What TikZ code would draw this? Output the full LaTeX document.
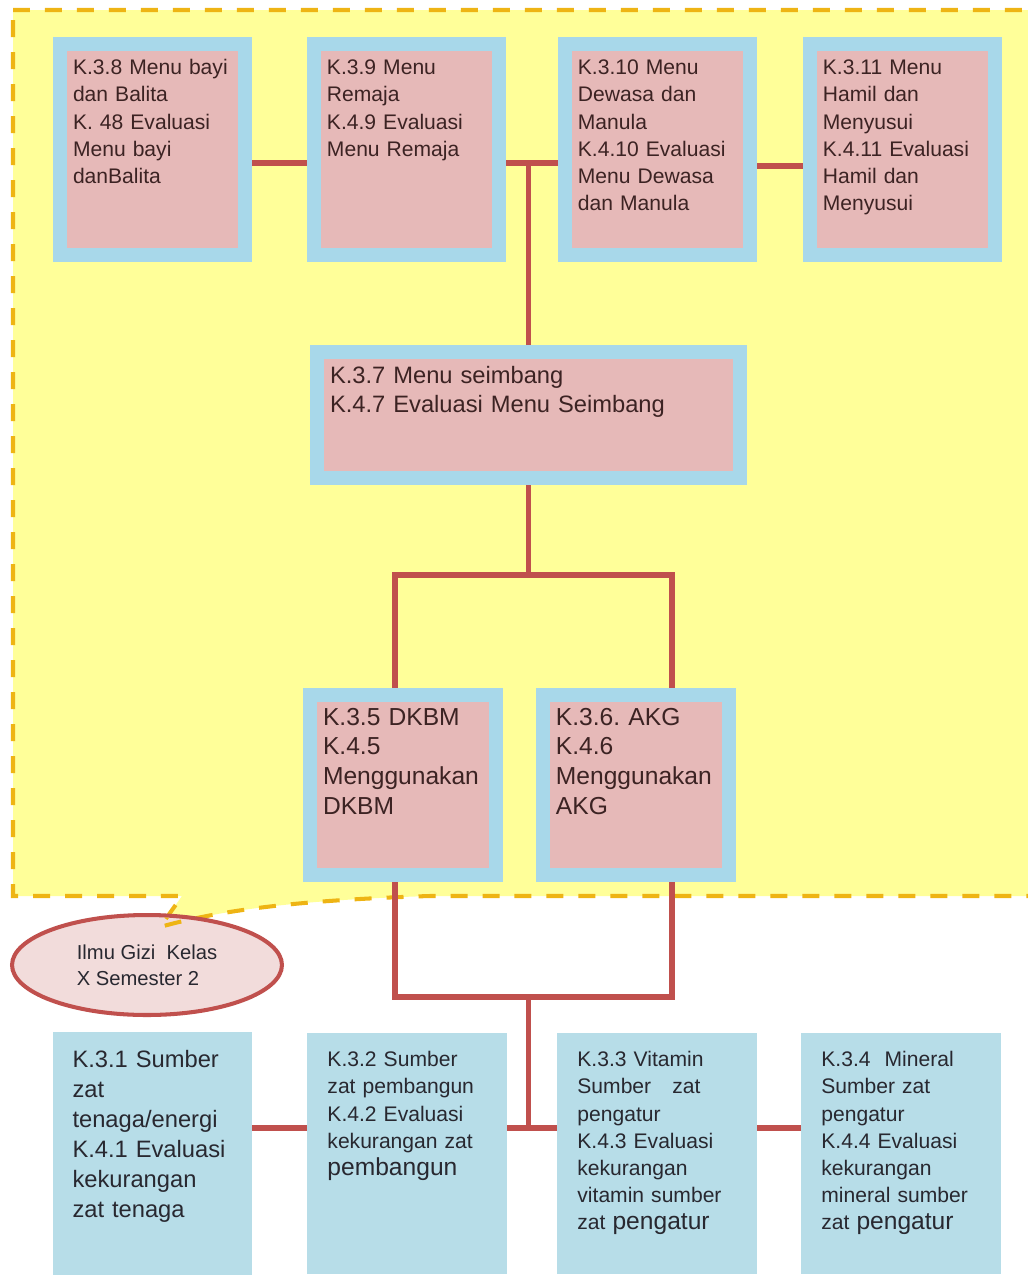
\documentclass[tikz,border=0pt]{standalone}
\usepackage{fontspec}
\setmainfont{Liberation Sans}
\usepackage{tikz}
\usetikzlibrary{positioning,shapes.geometric,backgrounds}

\definecolor{calloutyellow}{RGB}{255,255,153}
\definecolor{calloutgold}{RGB}{238,180,20}
\definecolor{menupink}{RGB}{230,185,184}
\definecolor{menurim}{RGB}{168,216,234}
\definecolor{topicblue}{RGB}{183,221,232}
\definecolor{linkred}{RGB}{192,80,77}
\definecolor{notepink}{RGB}{242,220,219}
\definecolor{inkbrown}{RGB}{60,35,35}
\definecolor{inkgrey}{RGB}{40,40,48}

\begin{document}
\frenchspacing
\begin{tikzpicture}[x=0.02cm, y=-0.02cm]
	\tikzstyle{menu} = [rectangle, draw=menurim, line width=0.28cm, fill=menupink, outer sep=0pt,
	text=inkbrown, align=left, text width=3.18cm, inner xsep=0.26cm, inner ysep=0.3cm,
	text height=9pt, text depth=3.3cm, font=\fontsize{12}{15.4}\selectfont]
	\tikzstyle{menubig} = [menu, text width=3.2cm, text height=10.3pt, text depth=2.76cm,
	inner ysep=0.24cm, font=\fontsize{14}{17}\selectfont]
	\tikzstyle{topic} = [rectangle, fill=topicblue, outer sep=0pt, text=inkgrey, align=left,
	text width=3.2cm, inner xsep=0.4cm, inner ysep=0.37cm, text height=9pt, text depth=3.78cm,
	font=\fontsize{12}{15.4}\selectfont]
	\tikzstyle{link} = [draw=linkred, line width=3.4pt]
	\tikzstyle{rim} = [draw=calloutgold, line width=2.3pt, dash pattern=on 0.34cm off 0.3cm]
	\useasboundingbox (0,0) rectangle (1028,1275);
	% semester 2 menus
	\node (m38) [menu] at (152.5,149.5) {K.3.8 Menu bayi\\dan Balita\\K. 48 Evaluasi\\Menu bayi\\danBalita};
	\node (m39) [menu, right=1.38cm of m38] {K.3.9 Menu\\Remaja\\K.4.9 Evaluasi\\Menu Remaja};
	\node (m310) [menu, right=1.32cm of m39] {K.3.10 Menu\\Dewasa dan\\Manula\\K.4.10 Evaluasi\\Menu Dewasa\\dan Manula};
	\node (m311) [menu, right=1.2cm of m310] {K.3.11 Menu\\Hamil dan\\Menyusui\\K.4.11 Evaluasi\\Hamil dan\\Menyusui};
	\node (m37) [menu, text width=7.94cm, text height=10pt, text depth=1.63cm, inner ysep=0.27cm,
	font=\fontsize{13.5}{16.5}\selectfont] at (528.5,415) {K.3.7 Menu seimbang\\K.4.7 Evaluasi Menu Seimbang};
	\node (k35) [menubig] at (403,785) {K.3.5 DKBM\\K.4.5\\Menggunakan\\DKBM};
	\node (k36) [menubig, right=0.94cm of k35] {K.3.6. AKG\\K.4.6\\Menggunakan\\AKG};
	% semester 1 topics
	\node (s31) [topic, text height=10pt, font=\fontsize{13.5}{17}\selectfont] at (152.5,1153.5)
	{K.3.1 Sumber\\zat\\tenaga/energi\\K.4.1 Evaluasi\\kekurangan\\zat tenaga};
	\node (s32) [topic, right=1.1cm of s31] {K.3.2 Sumber\\zat pembangun\\K.4.2 Evaluasi\\kekurangan zat\\{\fontsize{14}{15.4}\selectfont pembangun}};
	\node (s33) [topic, right=1cm of s32] {K.3.3 Vitamin\\Sumber~~~zat\\pengatur\\K.4.3 Evaluasi\\kekurangan\\vitamin sumber\\zat {\fontsize{14}{15.4}\selectfont pengatur}};
	\node (s34) [topic, right=0.88cm of s33] {K.3.4~~Mineral\\Sumber zat\\pengatur\\K.4.4 Evaluasi\\kekurangan\\mineral sumber\\zat {\fontsize{14}{15.4}\selectfont pengatur}};
	\node (kelas) [ellipse, draw=linkred, line width=2.3pt, fill=notepink, minimum width=5.4cm,
	minimum height=2cm, inner sep=0pt, text=inkgrey, align=left,
	font=\fontsize{11.5}{14.8}\selectfont] at (147,965) {Ilmu Gizi~~Kelas\\X Semester 2};
	% tip of the callout shows through the ellipse
	\begin{scope}
		\clip (kelas.center) ellipse [x radius=2.64cm, y radius=0.96cm];
		\draw [rim] (13,10) -- (1045,10) -- (1045,896) -- (430,896) .. controls (300,900) and (220,910) .. (160,927)
		-- (182,896) -- (13,896) -- cycle;
	\end{scope}
	\begin{scope}[on background layer]
		% callout behind the semester 2 part
		\filldraw [rim, fill=calloutyellow]
		(13,10) -- (1045,10) -- (1045,896) -- (430,896) .. controls (300,900) and (220,910) .. (160,927)
		-- (182,896) -- (13,896) -- cycle;
		\coordinate (t39) at ([yshift=-0.27cm]m39.east);
		\coordinate (b32) at ([yshift=0.51cm]s32.east);
		\draw [link] ([yshift=-0.27cm]m38.east) -- ([yshift=-0.27cm]m39.west);
		\draw [link] (t39) -- ([yshift=-0.27cm]m310.west);
		\draw [link] ([yshift=-0.33cm]m310.east) -- ([yshift=-0.33cm]m311.west);
		\draw [link] (m37.north) -- (m37.north |- t39);
		\draw [link] (m37.south) -- ++(0,-1.94cm) coordinate (fork);
		\draw [link] ([xshift=-0.16cm]k35.north) |- (fork) -| ([xshift=0.72cm]k36.north);
		\draw [link] ([xshift=-0.16cm]k35.south) -- ++(0,-2.44cm) coordinate (merge) -| ([xshift=0.72cm]k36.south);
		\draw [link] (merge -| fork) -- (fork |- b32);
		\draw [link] ([yshift=0.51cm]s31.east) -- ([yshift=0.51cm]s32.west);
		\draw [link] (b32) -- ([yshift=0.51cm]s33.west);
		\draw [link] ([yshift=0.51cm]s33.east) -- ([yshift=0.51cm]s34.west);
	\end{scope}
\end{tikzpicture}
\end{document}
